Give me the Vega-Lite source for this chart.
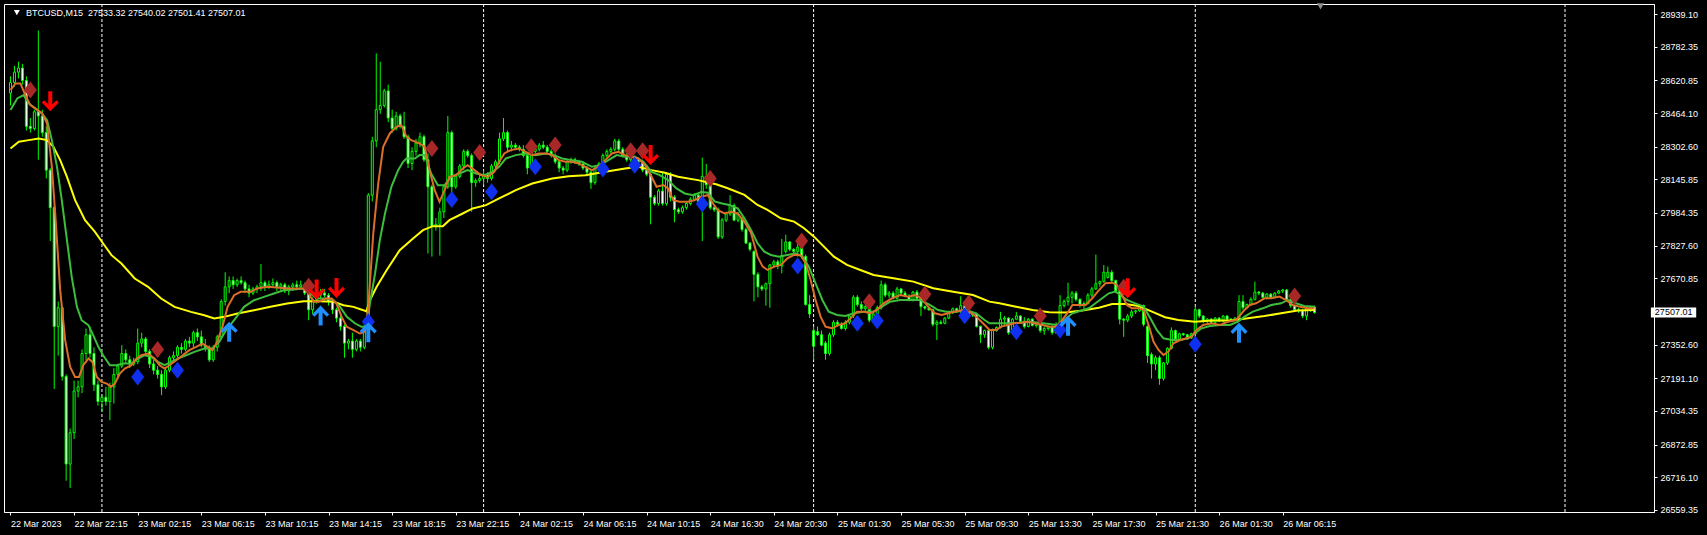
{
"$schema": "https://vega.github.io/schema/vega-lite/v6.json",
"width": 1650, "height": 508,
"autosize": {"type": "none"},
"padding": {"left": 4, "top": 4, "right": 53, "bottom": 23},
"background": "#000000",
"config": {"view": {"stroke": "#ffffff", "strokeWidth": 1, "fill": "#000000"}, "font": "Liberation Sans",
"axis": {"labelOverlap": false, "labelFlush": false, "grid": false},
"axisY": {"labelOverlap": false, "tickCount": 30}},
"datasets": {
"candles": [
{"i":0,"o":28560,"h":28640,"l":28500,"c":28610},{"i":1,"o":28610,"h":28690,"l":28590,"c":28660},{"i":2,"o":28660,"h":28710,"l":28630,"c":28680},{"i":3,"o":28680,"h":28700,"l":28600,"c":28620},{"i":4,"o":28620,"h":28640,"l":28380,"c":28400},{"i":5,"o":28400,"h":28440,"l":28370,"c":28390},{"i":6,"o":28390,"h":28480,"l":28380,"c":28470},{"i":7,"o":28470,"h":28860,"l":28240,"c":28450},{"i":8,"o":28450,"h":28480,"l":28350,"c":28370},{"i":9,"o":28370,"h":28400,"l":28150,"c":28190},
{"i":10,"o":28190,"h":28200,"l":27850,"c":28010},{"i":11,"o":28010,"h":28020,"l":27140,"c":27440},{"i":12,"o":27440,"h":27560,"l":27300,"c":27530},{"i":13,"o":27530,"h":27540,"l":27180,"c":27200},{"i":14,"o":27200,"h":27210,"l":26700,"c":26780},{"i":15,"o":26780,"h":26950,"l":26665,"c":26930},{"i":16,"o":26930,"h":27180,"l":26900,"c":27130},{"i":17,"o":27130,"h":27180,"l":27100,"c":27150},{"i":18,"o":27150,"h":27330,"l":27120,"c":27310},{"i":19,"o":27310,"h":27430,"l":27280,"c":27400},
{"i":20,"o":27400,"h":27440,"l":27290,"c":27310},{"i":21,"o":27310,"h":27340,"l":27130,"c":27160},{"i":22,"o":27160,"h":27180,"l":27060,"c":27080},{"i":23,"o":27080,"h":27110,"l":27030,"c":27100},{"i":24,"o":27100,"h":27150,"l":27060,"c":27080},{"i":25,"o":27080,"h":27170,"l":26990,"c":27150},{"i":26,"o":27150,"h":27240,"l":27070,"c":27210},{"i":27,"o":27210,"h":27260,"l":27190,"c":27250},{"i":28,"o":27250,"h":27350,"l":27240,"c":27310},{"i":29,"o":27310,"h":27330,"l":27260,"c":27280},
{"i":30,"o":27280,"h":27300,"l":27240,"c":27260},{"i":31,"o":27260,"h":27290,"l":27250,"c":27270},{"i":32,"o":27270,"h":27430,"l":27260,"c":27360},{"i":33,"o":27360,"h":27410,"l":27340,"c":27380},{"i":34,"o":27380,"h":27390,"l":27300,"c":27320},{"i":35,"o":27320,"h":27330,"l":27240,"c":27260},{"i":36,"o":27260,"h":27280,"l":27210,"c":27230},{"i":37,"o":27230,"h":27250,"l":27190,"c":27210},{"i":38,"o":27210,"h":27230,"l":27110,"c":27150},{"i":39,"o":27150,"h":27240,"l":27140,"c":27230},
{"i":40,"o":27230,"h":27300,"l":27220,"c":27290},{"i":41,"o":27290,"h":27320,"l":27270,"c":27300},{"i":42,"o":27300,"h":27350,"l":27290,"c":27340},{"i":43,"o":27340,"h":27360,"l":27310,"c":27330},{"i":44,"o":27330,"h":27380,"l":27320,"c":27370},{"i":45,"o":27370,"h":27390,"l":27340,"c":27360},{"i":46,"o":27360,"h":27420,"l":27340,"c":27410},{"i":47,"o":27410,"h":27430,"l":27370,"c":27390},{"i":48,"o":27390,"h":27420,"l":27340,"c":27350},{"i":49,"o":27350,"h":27380,"l":27320,"c":27340},
{"i":50,"o":27340,"h":27350,"l":27270,"c":27280},{"i":51,"o":27280,"h":27350,"l":27270,"c":27340},{"i":52,"o":27340,"h":27400,"l":27320,"c":27390},{"i":53,"o":27390,"h":27570,"l":27380,"c":27560},{"i":54,"o":27560,"h":27700,"l":27540,"c":27630},{"i":55,"o":27630,"h":27680,"l":27600,"c":27660},{"i":56,"o":27660,"h":27680,"l":27620,"c":27640},{"i":57,"o":27640,"h":27670,"l":27630,"c":27660},{"i":58,"o":27660,"h":27680,"l":27640,"c":27650},{"i":59,"o":27650,"h":27660,"l":27600,"c":27620},
{"i":60,"o":27620,"h":27640,"l":27580,"c":27600},{"i":61,"o":27600,"h":27630,"l":27590,"c":27620},{"i":62,"o":27620,"h":27640,"l":27600,"c":27630},{"i":63,"o":27630,"h":27740,"l":27610,"c":27650},{"i":64,"o":27650,"h":27660,"l":27610,"c":27630},{"i":65,"o":27630,"h":27660,"l":27620,"c":27640},{"i":66,"o":27640,"h":27670,"l":27630,"c":27650},{"i":67,"o":27650,"h":27660,"l":27610,"c":27630},{"i":68,"o":27630,"h":27650,"l":27610,"c":27640},{"i":69,"o":27640,"h":27650,"l":27600,"c":27610},
{"i":70,"o":27610,"h":27640,"l":27590,"c":27630},{"i":71,"o":27630,"h":27650,"l":27610,"c":27640},{"i":72,"o":27640,"h":27660,"l":27620,"c":27630},{"i":73,"o":27630,"h":27660,"l":27620,"c":27640},{"i":74,"o":27640,"h":27650,"l":27590,"c":27600},{"i":75,"o":27600,"h":27610,"l":27470,"c":27520},{"i":76,"o":27520,"h":27580,"l":27500,"c":27570},{"i":77,"o":27570,"h":27600,"l":27550,"c":27590},{"i":78,"o":27590,"h":27620,"l":27570,"c":27600},{"i":79,"o":27600,"h":27620,"l":27580,"c":27590},
{"i":80,"o":27590,"h":27600,"l":27540,"c":27560},{"i":81,"o":27560,"h":27570,"l":27500,"c":27520},{"i":82,"o":27520,"h":27530,"l":27460,"c":27480},{"i":83,"o":27480,"h":27490,"l":27420,"c":27440},{"i":84,"o":27440,"h":27450,"l":27290,"c":27360},{"i":85,"o":27360,"h":27380,"l":27330,"c":27370},{"i":86,"o":27370,"h":27410,"l":27290,"c":27330},{"i":87,"o":27330,"h":27380,"l":27320,"c":27370},{"i":88,"o":27370,"h":27380,"l":27320,"c":27340},{"i":89,"o":27340,"h":27450,"l":27330,"c":27420},
{"i":90,"o":27420,"h":28080,"l":27410,"c":28070},{"i":91,"o":28070,"h":28350,"l":28040,"c":28330},{"i":92,"o":28330,"h":28750,"l":28300,"c":28480},{"i":93,"o":28480,"h":28710,"l":28460,"c":28500},{"i":94,"o":28500,"h":28580,"l":28490,"c":28570},{"i":95,"o":28570,"h":28600,"l":28420,"c":28440},{"i":96,"o":28440,"h":28480,"l":28370,"c":28390},{"i":97,"o":28390,"h":28470,"l":28380,"c":28450},{"i":98,"o":28450,"h":28460,"l":28390,"c":28400},{"i":99,"o":28400,"h":28470,"l":28340,"c":28350},
{"i":100,"o":28350,"h":28360,"l":28200,"c":28222},{"i":101,"o":28222,"h":28300,"l":28190,"c":28280},{"i":102,"o":28280,"h":28340,"l":28260,"c":28320},{"i":103,"o":28320,"h":28370,"l":28300,"c":28350},{"i":104,"o":28350,"h":28360,"l":28230,"c":28240},{"i":105,"o":28240,"h":28270,"l":27790,"c":28110},{"i":106,"o":28110,"h":28120,"l":27775,"c":27920},{"i":107,"o":27920,"h":27960,"l":27900,"c":27930},{"i":108,"o":27930,"h":28010,"l":27780,"c":27990},{"i":109,"o":27990,"h":28120,"l":27960,"c":28110},
{"i":110,"o":28110,"h":28450,"l":28100,"c":28370},{"i":111,"o":28370,"h":28380,"l":28080,"c":28110},{"i":112,"o":28110,"h":28170,"l":28100,"c":28160},{"i":113,"o":28160,"h":28220,"l":28150,"c":28210},{"i":114,"o":28210,"h":28290,"l":28190,"c":28280},{"i":115,"o":28280,"h":28290,"l":28250,"c":28260},{"i":116,"o":28260,"h":28270,"l":27990,"c":28130},{"i":117,"o":28130,"h":28150,"l":28110,"c":28140},{"i":118,"o":28140,"h":28170,"l":28130,"c":28150},{"i":119,"o":28150,"h":28190,"l":28120,"c":28170},
{"i":120,"o":28170,"h":28180,"l":28130,"c":28150},{"i":121,"o":28150,"h":28220,"l":28140,"c":28210},{"i":122,"o":28210,"h":28240,"l":28190,"c":28230},{"i":123,"o":28230,"h":28370,"l":28220,"c":28340},{"i":124,"o":28340,"h":28440,"l":28330,"c":28370},{"i":125,"o":28370,"h":28380,"l":28280,"c":28300},{"i":126,"o":28300,"h":28330,"l":28280,"c":28310},{"i":127,"o":28310,"h":28320,"l":28290,"c":28300},{"i":128,"o":28300,"h":28310,"l":28280,"c":28290},{"i":129,"o":28290,"h":28310,"l":28250,"c":28260},
{"i":130,"o":28260,"h":28270,"l":28170,"c":28200},{"i":131,"o":28200,"h":28290,"l":28190,"c":28280},{"i":132,"o":28280,"h":28300,"l":28270,"c":28290},{"i":133,"o":28290,"h":28320,"l":28280,"c":28310},{"i":134,"o":28310,"h":28330,"l":28290,"c":28300},{"i":135,"o":28300,"h":28310,"l":28270,"c":28280},{"i":136,"o":28280,"h":28290,"l":28250,"c":28260},{"i":137,"o":28260,"h":28270,"l":28220,"c":28230},{"i":138,"o":28230,"h":28240,"l":28180,"c":28200},{"i":139,"o":28200,"h":28210,"l":28170,"c":28190},
{"i":140,"o":28190,"h":28240,"l":28180,"c":28230},{"i":141,"o":28230,"h":28250,"l":28220,"c":28240},{"i":142,"o":28240,"h":28250,"l":28220,"c":28230},{"i":143,"o":28230,"h":28240,"l":28210,"c":28220},{"i":144,"o":28220,"h":28230,"l":28190,"c":28200},{"i":145,"o":28200,"h":28210,"l":28160,"c":28180},{"i":146,"o":28180,"h":28190,"l":28100,"c":28130},{"i":147,"o":28130,"h":28210,"l":28120,"c":28200},{"i":148,"o":28200,"h":28230,"l":28190,"c":28220},{"i":149,"o":28220,"h":28270,"l":28210,"c":28260},
{"i":150,"o":28260,"h":28290,"l":28250,"c":28280},{"i":151,"o":28280,"h":28300,"l":28270,"c":28290},{"i":152,"o":28290,"h":28340,"l":28280,"c":28330},{"i":153,"o":28330,"h":28340,"l":28280,"c":28290},{"i":154,"o":28290,"h":28300,"l":28250,"c":28260},{"i":155,"o":28260,"h":28280,"l":28230,"c":28240},{"i":156,"o":28240,"h":28260,"l":28230,"c":28250},{"i":157,"o":28250,"h":28260,"l":28230,"c":28240},{"i":158,"o":28240,"h":28250,"l":28220,"c":28230},{"i":159,"o":28230,"h":28240,"l":28180,"c":28190},
{"i":160,"o":28190,"h":28200,"l":28160,"c":28170},{"i":161,"o":28170,"h":28180,"l":27930,"c":28060},{"i":162,"o":28060,"h":28070,"l":28020,"c":28030},{"i":163,"o":28030,"h":28100,"l":28020,"c":28090},{"i":164,"o":28090,"h":28180,"l":28020,"c":28030},{"i":165,"o":28030,"h":28180,"l":28020,"c":28170},{"i":166,"o":28170,"h":28180,"l":28040,"c":28060},{"i":167,"o":28060,"h":28070,"l":27940,"c":28000},{"i":168,"o":28000,"h":28010,"l":27980,"c":27990},{"i":169,"o":27990,"h":28020,"l":27980,"c":28010},
{"i":170,"o":28010,"h":28040,"l":28000,"c":28030},{"i":171,"o":28030,"h":28060,"l":28020,"c":28050},{"i":172,"o":28050,"h":28080,"l":28040,"c":28070},{"i":173,"o":28070,"h":28080,"l":28030,"c":28040},{"i":174,"o":28040,"h":28250,"l":27850,"c":28160},{"i":175,"o":28160,"h":28220,"l":28100,"c":28120},{"i":176,"o":28120,"h":28130,"l":28000,"c":28010},{"i":177,"o":28010,"h":28020,"l":27990,"c":28000},{"i":178,"o":28000,"h":28010,"l":27860,"c":27870},{"i":179,"o":27870,"h":27960,"l":27860,"c":27950},
{"i":180,"o":27950,"h":27990,"l":27940,"c":27980},{"i":181,"o":27980,"h":28070,"l":27970,"c":28020},{"i":182,"o":28020,"h":28030,"l":27945,"c":27950},{"i":183,"o":27950,"h":27990,"l":27940,"c":27980},{"i":184,"o":27960,"h":27965,"l":27895,"c":27905},{"i":185,"o":27905,"h":27915,"l":27835,"c":27840},{"i":186,"o":27840,"h":27845,"l":27800,"c":27810},{"i":187,"o":27800,"h":27805,"l":27560,"c":27690},{"i":188,"o":27690,"h":27700,"l":27580,"c":27630},{"i":189,"o":27630,"h":27640,"l":27610,"c":27620},
{"i":190,"o":27620,"h":27650,"l":27540,"c":27645},{"i":191,"o":27645,"h":27740,"l":27530,"c":27735},{"i":192,"o":27735,"h":27760,"l":27725,"c":27750},{"i":193,"o":27750,"h":27760,"l":27715,"c":27730},{"i":194,"o":27730,"h":27860,"l":27695,"c":27780},{"i":195,"o":27800,"h":27880,"l":27790,"c":27845},{"i":196,"o":27845,"h":27850,"l":27800,"c":27810},{"i":197,"o":27810,"h":27815,"l":27790,"c":27800},{"i":198,"o":27800,"h":27860,"l":27775,"c":27820},{"i":199,"o":27820,"h":27825,"l":27765,"c":27775},
{"i":200,"o":27775,"h":27785,"l":27540,"c":27545},{"i":201,"o":27545,"h":27590,"l":27480,"c":27500},{"i":202,"o":27420,"h":27440,"l":27280,"c":27345},{"i":203,"o":27415,"h":27440,"l":27395,"c":27400},{"i":204,"o":27400,"h":27420,"l":27345,"c":27350},{"i":205,"o":27360,"h":27370,"l":27280,"c":27310},{"i":206,"o":27310,"h":27410,"l":27300,"c":27400},{"i":207,"o":27400,"h":27470,"l":27390,"c":27460},{"i":208,"o":27460,"h":27470,"l":27440,"c":27450},{"i":209,"o":27450,"h":27460,"l":27425,"c":27430},
{"i":210,"o":27430,"h":27470,"l":27420,"c":27460},{"i":211,"o":27460,"h":27500,"l":27450,"c":27490},{"i":212,"o":27490,"h":27590,"l":27480,"c":27580},{"i":213,"o":27580,"h":27590,"l":27535,"c":27545},{"i":214,"o":27545,"h":27560,"l":27515,"c":27525},{"i":215,"o":27525,"h":27545,"l":27515,"c":27535},{"i":216,"o":27535,"h":27540,"l":27460,"c":27470},{"i":217,"o":27470,"h":27510,"l":27460,"c":27500},{"i":218,"o":27500,"h":27540,"l":27495,"c":27530},{"i":219,"o":27530,"h":27660,"l":27520,"c":27640},
{"i":220,"o":27640,"h":27650,"l":27580,"c":27590},{"i":221,"o":27590,"h":27610,"l":27575,"c":27600},{"i":222,"o":27600,"h":27610,"l":27570,"c":27575},{"i":223,"o":27575,"h":27630,"l":27570,"c":27620},{"i":224,"o":27620,"h":27625,"l":27590,"c":27600},{"i":225,"o":27600,"h":27610,"l":27580,"c":27585},{"i":226,"o":27585,"h":27595,"l":27560,"c":27565},{"i":227,"o":27565,"h":27610,"l":27560,"c":27605},{"i":228,"o":27605,"h":27615,"l":27570,"c":27575},{"i":229,"o":27575,"h":27580,"l":27490,"c":27535},
{"i":230,"o":27535,"h":27540,"l":27520,"c":27528},{"i":231,"o":27528,"h":27535,"l":27515,"c":27520},{"i":232,"o":27520,"h":27525,"l":27440,"c":27450},{"i":233,"o":27450,"h":27470,"l":27375,"c":27460},{"i":234,"o":27460,"h":27470,"l":27450,"c":27455},{"i":235,"o":27455,"h":27485,"l":27450,"c":27480},{"i":236,"o":27480,"h":27510,"l":27475,"c":27505},{"i":237,"o":27505,"h":27530,"l":27500,"c":27525},{"i":238,"o":27525,"h":27530,"l":27505,"c":27510},{"i":239,"o":27510,"h":27585,"l":27505,"c":27540},
{"i":240,"o":27540,"h":27545,"l":27505,"c":27515},{"i":241,"o":27515,"h":27520,"l":27490,"c":27495},{"i":242,"o":27495,"h":27505,"l":27485,"c":27500},{"i":243,"o":27500,"h":27505,"l":27435,"c":27440},{"i":244,"o":27440,"h":27445,"l":27360,"c":27400},{"i":245,"o":27400,"h":27425,"l":27385,"c":27420},{"i":246,"o":27420,"h":27425,"l":27330,"c":27340},{"i":247,"o":27340,"h":27430,"l":27330,"c":27420},{"i":248,"o":27420,"h":27440,"l":27415,"c":27435},{"i":249,"o":27435,"h":27510,"l":27430,"c":27475},
{"i":250,"o":27475,"h":27490,"l":27445,"c":27480},{"i":251,"o":27480,"h":27485,"l":27400,"c":27410},{"i":252,"o":27410,"h":27480,"l":27405,"c":27475},{"i":253,"o":27475,"h":27510,"l":27470,"c":27490},{"i":254,"o":27490,"h":27495,"l":27455,"c":27465},{"i":255,"o":27465,"h":27485,"l":27430,"c":27440},{"i":256,"o":27440,"h":27480,"l":27435,"c":27475},{"i":257,"o":27475,"h":27480,"l":27440,"c":27445},{"i":258,"o":27445,"h":27460,"l":27435,"c":27455},{"i":259,"o":27455,"h":27460,"l":27410,"c":27420},
{"i":260,"o":27420,"h":27440,"l":27400,"c":27430},{"i":261,"o":27430,"h":27445,"l":27420,"c":27440},{"i":262,"o":27440,"h":27445,"l":27400,"c":27410},{"i":263,"o":27410,"h":27460,"l":27405,"c":27450},{"i":264,"o":27450,"h":27590,"l":27440,"c":27540},{"i":265,"o":27540,"h":27570,"l":27530,"c":27560},{"i":266,"o":27560,"h":27650,"l":27540,"c":27580},{"i":267,"o":27580,"h":27610,"l":27550,"c":27600},{"i":268,"o":27600,"h":27610,"l":27560,"c":27570},{"i":269,"o":27570,"h":27575,"l":27530,"c":27540},
{"i":270,"o":27540,"h":27560,"l":27515,"c":27550},{"i":271,"o":27550,"h":27600,"l":27545,"c":27590},{"i":272,"o":27590,"h":27630,"l":27580,"c":27620},{"i":273,"o":27620,"h":27785,"l":27615,"c":27645},{"i":274,"o":27645,"h":27660,"l":27630,"c":27655},{"i":275,"o":27655,"h":27735,"l":27650,"c":27700},{"i":276,"o":27675,"h":27727,"l":27670,"c":27700},{"i":277,"o":27700,"h":27710,"l":27650,"c":27660},{"i":278,"o":27660,"h":27665,"l":27600,"c":27610},{"i":279,"o":27610,"h":27620,"l":27450,"c":27475},
{"i":280,"o":27475,"h":27480,"l":27390,"c":27470},{"i":281,"o":27470,"h":27500,"l":27460,"c":27490},{"i":282,"o":27490,"h":27520,"l":27480,"c":27510},{"i":283,"o":27510,"h":27520,"l":27500,"c":27515},{"i":284,"o":27515,"h":27545,"l":27510,"c":27540},{"i":285,"o":27540,"h":27545,"l":27440,"c":27450},{"i":286,"o":27440,"h":27445,"l":27265,"c":27300},{"i":287,"o":27305,"h":27315,"l":27190,"c":27260},{"i":288,"o":27260,"h":27300,"l":27230,"c":27290},{"i":289,"o":27290,"h":27300,"l":27160,"c":27190},
{"i":290,"o":27190,"h":27270,"l":27180,"c":27265},{"i":291,"o":27265,"h":27340,"l":27255,"c":27335},{"i":292,"o":27335,"h":27435,"l":27330,"c":27420},{"i":293,"o":27420,"h":27425,"l":27370,"c":27380},{"i":294,"o":27380,"h":27410,"l":27370,"c":27405},{"i":295,"o":27405,"h":27410,"l":27395,"c":27400},{"i":296,"o":27400,"h":27405,"l":27375,"c":27385},{"i":297,"o":27385,"h":27410,"l":27380,"c":27405},{"i":298,"o":27405,"h":27535,"l":27400,"c":27520},{"i":299,"o":27520,"h":27525,"l":27480,"c":27490},
{"i":300,"o":27490,"h":27495,"l":27455,"c":27465},{"i":301,"o":27465,"h":27480,"l":27455,"c":27475},{"i":302,"o":27475,"h":27480,"l":27450,"c":27460},{"i":303,"o":27460,"h":27485,"l":27455,"c":27480},{"i":304,"o":27480,"h":27485,"l":27460,"c":27465},{"i":305,"o":27465,"h":27495,"l":27460,"c":27490},{"i":306,"o":27490,"h":27495,"l":27470,"c":27475},{"i":307,"o":27475,"h":27480,"l":27465,"c":27470},{"i":308,"o":27470,"h":27485,"l":27465,"c":27480},{"i":309,"o":27480,"h":27590,"l":27470,"c":27560},
{"i":310,"o":27560,"h":27590,"l":27520,"c":27530},{"i":311,"o":27530,"h":27550,"l":27525,"c":27545},{"i":312,"o":27545,"h":27580,"l":27540,"c":27570},{"i":313,"o":27570,"h":27655,"l":27565,"c":27605},{"i":314,"o":27605,"h":27610,"l":27590,"c":27600},{"i":315,"o":27600,"h":27605,"l":27575,"c":27580},{"i":316,"o":27580,"h":27600,"l":27570,"c":27595},{"i":317,"o":27595,"h":27600,"l":27575,"c":27580},{"i":318,"o":27580,"h":27605,"l":27575,"c":27600},{"i":319,"o":27600,"h":27615,"l":27595,"c":27610},
{"i":320,"o":27610,"h":27620,"l":27600,"c":27615},{"i":321,"o":27615,"h":27620,"l":27560,"c":27570},{"i":322,"o":27570,"h":27575,"l":27530,"c":27540},{"i":323,"o":27540,"h":27545,"l":27510,"c":27520},{"i":324,"o":27520,"h":27530,"l":27505,"c":27515},{"i":325,"o":27515,"h":27525,"l":27480,"c":27490},{"i":326,"o":27490,"h":27530,"l":27470,"c":27525},{"i":327,"o":27525,"h":27540,"l":27510,"c":27533},{"i":328,"o":27533.32,"h":27540.02,"l":27501.41,"c":27507.01}
],
"fast": [
{"i":0,"p":28574},{"i":1.25,"p":28606},{"i":2.5,"p":28606},{"i":3.75,"p":28550},{"i":5,"p":28502},{"i":6.25,"p":28486},{"i":8,"p":28462},{"i":9.2,"p":28414},{"i":10.4,"p":28206},{"i":11.25,"p":27982},{"i":12.5,"p":27614},{"i":13.75,"p":27374},{"i":15,"p":27246},{"i":16.25,"p":27198},{"i":17.25,"p":27198},{"i":18.3,"p":27254},{"i":19.6,"p":27286},{"i":20.6,"p":27270},{"i":21.7,"p":27198},{"i":22.9,"p":27174},{"i":24.2,"p":27166},{"i":25.25,"p":27150},{"i":26.25,"p":27166},{"i":27.5,"p":27214},{"i":28.75,"p":27238},{"i":30.4,"p":27254},{"i":31.7,"p":27286},{"i":32.9,"p":27302},{"i":34.6,"p":27310},{"i":36.25,"p":27286},{"i":37.5,"p":27254},{"i":38.75,"p":27238},{"i":40,"p":27254},{"i":41.7,"p":27278},{"i":43.3,"p":27302},{"i":45,"p":27326},{"i":46.7,"p":27342},{"i":48.3,"p":27358},{"i":49.6,"p":27342},{"i":50.8,"p":27326},{"i":52,"p":27366},{"i":53.3,"p":27438},{"i":54.6,"p":27534},{"i":56.25,"p":27590},{"i":57.9,"p":27606},{"i":60.4,"p":27606},{"i":62,"p":27622},{"i":64.6,"p":27630},{"i":67,"p":27627},{"i":69.6,"p":27622},{"i":72,"p":27622},{"i":73.75,"p":27622},{"i":75,"p":27598},{"i":76.25,"p":27558},{"i":77.5,"p":27558},{"i":79.2,"p":27574},{"i":80.8,"p":27574},{"i":82,"p":27550},{"i":83.3,"p":27486},{"i":84.6,"p":27438},{"i":86.25,"p":27422},{"i":87.9,"p":27406},{"i":89.2,"p":27414},{"i":90,"p":27534},{"i":91.25,"p":27886},{"i":92.5,"p":28126},{"i":93.75,"p":28302},{"i":95.4,"p":28366},{"i":97.1,"p":28398},{"i":98.3,"p":28406},{"i":99.6,"p":28350},{"i":100.8,"p":28334},{"i":102.9,"p":28318},{"i":104.2,"p":28302},{"i":105.4,"p":28190},{"i":106.7,"p":28094},{"i":107.9,"p":28038},{"i":109.2,"p":28094},{"i":110.4,"p":28158},{"i":112.1,"p":28166},{"i":113.75,"p":28198},{"i":115,"p":28214},{"i":116.7,"p":28190},{"i":118.3,"p":28166},{"i":120,"p":28158},{"i":121.7,"p":28182},{"i":122.9,"p":28230},{"i":124.2,"p":28270},{"i":125.8,"p":28286},{"i":127.9,"p":28294},{"i":129.6,"p":28278},{"i":131.25,"p":28262},{"i":132.9,"p":28270},{"i":135,"p":28270},{"i":136.25,"p":28262},{"i":137.9,"p":28238},{"i":139.6,"p":28230},{"i":141.25,"p":28230},{"i":142.9,"p":28222},{"i":144.6,"p":28206},{"i":146.25,"p":28190},{"i":147.9,"p":28206},{"i":149.6,"p":28238},{"i":151.25,"p":28270},{"i":152.9,"p":28278},{"i":154.6,"p":28262},{"i":156.25,"p":28254},{"i":157.9,"p":28246},{"i":159.6,"p":28214},{"i":161.25,"p":28158},{"i":162.5,"p":28110},{"i":164.2,"p":28118},{"i":165.4,"p":28102},{"i":166.7,"p":28046},{"i":168.3,"p":28038},{"i":170.4,"p":28038},{"i":172.1,"p":28046},{"i":173.75,"p":28062},{"i":175.4,"p":28070},{"i":176.7,"p":28030},{"i":177.9,"p":27998},{"i":179.6,"p":27982},{"i":181.25,"p":27990},{"i":182.9,"p":27982},{"i":184.6,"p":27942},{"i":186.25,"p":27890},{"i":187.9,"p":27775},{"i":189.2,"p":27727},{"i":190.4,"p":27711},{"i":192.1,"p":27727},{"i":193.75,"p":27735},{"i":195.4,"p":27767},{"i":197.1,"p":27783},{"i":198.75,"p":27783},{"i":200,"p":27743},{"i":201.25,"p":27663},{"i":202.5,"p":27567},{"i":203.75,"p":27487},{"i":205,"p":27439},{"i":206.7,"p":27431},{"i":208.3,"p":27447},{"i":210,"p":27455},{"i":211.7,"p":27487},{"i":212.9,"p":27511},{"i":214.6,"p":27511},{"i":216.25,"p":27503},{"i":217.9,"p":27519},{"i":219.6,"p":27551},{"i":221.7,"p":27575},{"i":223.75,"p":27591},{"i":225.8,"p":27583},{"i":227.5,"p":27591},{"i":229.2,"p":27575},{"i":230.8,"p":27535},{"i":232.5,"p":27503},{"i":234.2,"p":27495},{"i":235.8,"p":27503},{"i":237.5,"p":27511},{"i":239.6,"p":27519},{"i":241.25,"p":27511},{"i":242.9,"p":27487},{"i":244.6,"p":27455},{"i":246.25,"p":27423},{"i":247.9,"p":27423},{"i":249.2,"p":27439},{"i":250.8,"p":27447},{"i":252.5,"p":27455},{"i":254.2,"p":27458},{"i":255.8,"p":27463},{"i":257.5,"p":27455},{"i":259.6,"p":27447},{"i":261.25,"p":27439},{"i":262.9,"p":27439},{"i":264.2,"p":27463},{"i":265.8,"p":27503},{"i":267.1,"p":27543},{"i":268.75,"p":27543},{"i":270.4,"p":27543},{"i":272.1,"p":27575},{"i":273.3,"p":27603},{"i":274.2,"p":27623},{"i":275.4,"p":27647},{"i":277.1,"p":27650},{"i":278.3,"p":27639},{"i":279.6,"p":27591},{"i":280.8,"p":27543},{"i":282.1,"p":27527},{"i":283.75,"p":27527},{"i":285,"p":27519},{"i":286.25,"p":27447},{"i":287.5,"p":27367},{"i":288.75,"p":27327},{"i":290,"p":27303},{"i":291.25,"p":27319},{"i":292.5,"p":27359},{"i":294.2,"p":27375},{"i":295.8,"p":27383},{"i":297.1,"p":27391},{"i":298.3,"p":27423},{"i":300,"p":27447},{"i":302.1,"p":27455},{"i":304.2,"p":27447},{"i":306.25,"p":27463},{"i":308.3,"p":27471},{"i":310,"p":27511},{"i":311.7,"p":27543},{"i":313.3,"p":27551},{"i":315.4,"p":27575},{"i":317.1,"p":27575},{"i":319.2,"p":27583},{"i":320.8,"p":27567},{"i":322.5,"p":27543},{"i":324.2,"p":27535},{"i":326.25,"p":27527},{"i":328,"p":27527}
],
"mid": [
{"i":0,"p":28478},{"i":1.7,"p":28534},{"i":3.3,"p":28550},{"i":4.6,"p":28510},{"i":6.25,"p":28486},{"i":7.9,"p":28462},{"i":9.2,"p":28430},{"i":10.4,"p":28334},{"i":11.7,"p":28206},{"i":12.9,"p":28046},{"i":14.2,"p":27854},{"i":15.4,"p":27678},{"i":16.7,"p":27534},{"i":17.9,"p":27470},{"i":19.6,"p":27446},{"i":20.8,"p":27398},{"i":22.1,"p":27342},{"i":23.3,"p":27302},{"i":25,"p":27254},{"i":26.7,"p":27254},{"i":28.3,"p":27262},{"i":30.4,"p":27262},{"i":32.1,"p":27286},{"i":33.75,"p":27302},{"i":35.4,"p":27294},{"i":37.1,"p":27270},{"i":38.75,"p":27254},{"i":40.4,"p":27270},{"i":42.1,"p":27286},{"i":44.2,"p":27302},{"i":46.25,"p":27318},{"i":48.75,"p":27334},{"i":50.8,"p":27334},{"i":52.5,"p":27366},{"i":54.2,"p":27422},{"i":56.25,"p":27470},{"i":58.75,"p":27534},{"i":61.25,"p":27566},{"i":63.75,"p":27582},{"i":66.25,"p":27598},{"i":68.75,"p":27614},{"i":71.25,"p":27617},{"i":73.75,"p":27622},{"i":75.4,"p":27598},{"i":77.1,"p":27574},{"i":79.2,"p":27574},{"i":81.25,"p":27566},{"i":82.9,"p":27534},{"i":84.6,"p":27486},{"i":86.7,"p":27454},{"i":88.3,"p":27438},{"i":89.6,"p":27438},{"i":90.4,"p":27550},{"i":91.7,"p":27694},{"i":92.9,"p":27854},{"i":94.2,"p":27982},{"i":95.8,"p":28110},{"i":97.5,"p":28190},{"i":98.75,"p":28230},{"i":99.6,"p":28246},{"i":101.7,"p":28246},{"i":102.9,"p":28262},{"i":104.2,"p":28262},{"i":105.8,"p":28174},{"i":107.5,"p":28118},{"i":109.2,"p":28118},{"i":110.8,"p":28158},{"i":112.9,"p":28174},{"i":115,"p":28190},{"i":117.1,"p":28174},{"i":119.2,"p":28166},{"i":121.25,"p":28182},{"i":122.9,"p":28206},{"i":124.6,"p":28246},{"i":127.1,"p":28262},{"i":129.6,"p":28270},{"i":132.1,"p":28262},{"i":134.6,"p":28270},{"i":136.7,"p":28262},{"i":138.75,"p":28246},{"i":141.25,"p":28238},{"i":143.75,"p":28230},{"i":146.25,"p":28206},{"i":148.3,"p":28214},{"i":150.4,"p":28238},{"i":152.5,"p":28262},{"i":154.6,"p":28254},{"i":157.1,"p":28254},{"i":159.2,"p":28230},{"i":161.25,"p":28182},{"i":163.3,"p":28166},{"i":165.4,"p":28142},{"i":167.5,"p":28102},{"i":169.6,"p":28078},{"i":171.7,"p":28070},{"i":173.75,"p":28085},{"i":175.4,"p":28082},{"i":177.1,"p":28040},{"i":178.75,"p":28031},{"i":180.8,"p":28023},{"i":182.9,"p":28007},{"i":184.6,"p":27959},{"i":186.25,"p":27903},{"i":187.9,"p":27839},{"i":189.6,"p":27799},{"i":191.25,"p":27783},{"i":193.3,"p":27775},{"i":195.4,"p":27783},{"i":197.5,"p":27791},{"i":199.2,"p":27775},{"i":200.8,"p":27727},{"i":202.5,"p":27647},{"i":204.2,"p":27567},{"i":205.8,"p":27511},{"i":207.9,"p":27495},{"i":210,"p":27490},{"i":212.1,"p":27503},{"i":214.6,"p":27511},{"i":217.1,"p":27511},{"i":219.2,"p":27535},{"i":221.25,"p":27559},{"i":223.75,"p":27567},{"i":226.25,"p":27567},{"i":228.75,"p":27567},{"i":231.25,"p":27543},{"i":233.3,"p":27519},{"i":235.4,"p":27511},{"i":237.9,"p":27511},{"i":240.4,"p":27519},{"i":242.9,"p":27503},{"i":245,"p":27471},{"i":246.25,"p":27455},{"i":248.75,"p":27455},{"i":251.25,"p":27455},{"i":253.75,"p":27458},{"i":256.25,"p":27463},{"i":258.75,"p":27458},{"i":261.25,"p":27452},{"i":263.3,"p":27447},{"i":265,"p":27471},{"i":267.1,"p":27503},{"i":269.2,"p":27515},{"i":271.25,"p":27527},{"i":272.9,"p":27551},{"i":274.6,"p":27575},{"i":276.25,"p":27599},{"i":277.9,"p":27607},{"i":279.2,"p":27591},{"i":280.8,"p":27567},{"i":282.9,"p":27551},{"i":285,"p":27535},{"i":286.7,"p":27479},{"i":288.3,"p":27423},{"i":290,"p":27383},{"i":292.1,"p":27375},{"i":294.2,"p":27375},{"i":296.25,"p":27383},{"i":297.9,"p":27407},{"i":299.6,"p":27431},{"i":301.7,"p":27442},{"i":304.2,"p":27447},{"i":306.7,"p":27447},{"i":308.75,"p":27463},{"i":310.4,"p":27487},{"i":312.5,"p":27511},{"i":315,"p":27527},{"i":317.1,"p":27543},{"i":319.6,"p":27551},{"i":321.25,"p":27567},{"i":323.3,"p":27551},{"i":325.4,"p":27538},{"i":328,"p":27535}
],
"slow": [
{"i":0,"p":28294},{"i":2.1,"p":28326},{"i":4.6,"p":28334},{"i":7.1,"p":28342},{"i":9.2,"p":28334},{"i":10.8,"p":28302},{"i":12.5,"p":28238},{"i":14.2,"p":28158},{"i":16.25,"p":28046},{"i":18.75,"p":27950},{"i":21.25,"p":27894},{"i":23.3,"p":27838},{"i":25.4,"p":27782},{"i":27.9,"p":27742},{"i":31.25,"p":27670},{"i":34.6,"p":27630},{"i":37.9,"p":27574},{"i":41.25,"p":27534},{"i":45.4,"p":27510},{"i":48.75,"p":27494},{"i":51.25,"p":27478},{"i":53.75,"p":27486},{"i":57.1,"p":27502},{"i":61.25,"p":27518},{"i":65.4,"p":27534},{"i":69.6,"p":27550},{"i":73.75,"p":27561},{"i":77.9,"p":27561},{"i":81.25,"p":27558},{"i":83.75,"p":27542},{"i":86.25,"p":27534},{"i":88.75,"p":27518},{"i":89.5,"p":27512},{"i":90.4,"p":27566},{"i":92.1,"p":27630},{"i":94.6,"p":27710},{"i":97.9,"p":27806},{"i":101.25,"p":27862},{"i":103.75,"p":27902},{"i":106.25,"p":27921},{"i":108.75,"p":27921},{"i":110.4,"p":27950},{"i":113.75,"p":27982},{"i":116.25,"p":28006},{"i":119.6,"p":28022},{"i":122.9,"p":28054},{"i":127.1,"p":28094},{"i":131.25,"p":28126},{"i":136.25,"p":28150},{"i":140.4,"p":28161},{"i":144.6,"p":28166},{"i":149.6,"p":28182},{"i":154.6,"p":28198},{"i":157.9,"p":28206},{"i":161.25,"p":28190},{"i":164.6,"p":28177},{"i":167.9,"p":28158},{"i":172.9,"p":28142},{"i":177.5,"p":28122},{"i":180.4,"p":28103},{"i":184.6,"p":28071},{"i":187.9,"p":28023},{"i":190.4,"p":27999},{"i":193.75,"p":27959},{"i":197.1,"p":27943},{"i":199.6,"p":27911},{"i":202.1,"p":27871},{"i":204.6,"p":27823},{"i":207.1,"p":27775},{"i":210.4,"p":27735},{"i":213.75,"p":27711},{"i":217.1,"p":27687},{"i":222.1,"p":27671},{"i":227.1,"p":27655},{"i":232.1,"p":27623},{"i":237.1,"p":27607},{"i":242.1,"p":27591},{"i":246.25,"p":27559},{"i":248.75,"p":27551},{"i":252.9,"p":27535},{"i":257.1,"p":27519},{"i":261.25,"p":27508},{"i":265.4,"p":27507},{"i":269.6,"p":27517},{"i":273.75,"p":27530},{"i":277.1,"p":27548},{"i":280.4,"p":27548},{"i":283.75,"p":27538},{"i":287.1,"p":27511},{"i":290.4,"p":27484},{"i":293.75,"p":27471},{"i":297.9,"p":27463},{"i":302.1,"p":27468},{"i":307.1,"p":27468},{"i":311.25,"p":27479},{"i":315.4,"p":27490},{"i":319.6,"p":27503},{"i":323.75,"p":27516},{"i":328,"p":27519}
],
"signals": [
{"i":5,"p":28574,"t":"a"},{"i":37,"p":27329,"t":"a"},{"i":75,"p":27633,"t":"a"},{"i":106,"p":28294,"t":"a"},{"i":118,"p":28275,"t":"a"},{"i":131,"p":28302,"t":"a"},{"i":137,"p":28310,"t":"a"},{"i":156,"p":28283,"t":"a"},{"i":159,"p":28283,"t":"a"},{"i":176,"p":28150,"t":"a"},{"i":199,"p":27850,"t":"a"},{"i":216,"p":27559,"t":"a"},{"i":230,"p":27594,"t":"a"},{"i":241,"p":27551,"t":"a"},{"i":259,"p":27490,"t":"a"},{"i":280,"p":27628,"t":"a"},{"i":323,"p":27586,"t":"a"},
{"i":32,"p":27198,"t":"b"},{"i":42,"p":27230,"t":"b"},{"i":90,"p":27462,"t":"b"},{"i":111,"p":28049,"t":"b"},{"i":121,"p":28086,"t":"b"},{"i":132,"p":28206,"t":"b"},{"i":149,"p":28195,"t":"b"},{"i":157,"p":28214,"t":"b"},{"i":174,"p":28027,"t":"b"},{"i":198,"p":27730,"t":"b"},{"i":213,"p":27455,"t":"b"},{"i":218,"p":27467,"t":"b"},{"i":240,"p":27491,"t":"b"},{"i":253,"p":27415,"t":"b"},{"i":264,"p":27423,"t":"b"},{"i":298,"p":27354,"t":"b"},
{"i":10,"p":28520,"t":"d"},{"i":77,"p":27617,"t":"d"},{"i":82,"p":27625,"t":"d"},{"i":161,"p":28262,"t":"d"},{"i":281,"p":27623,"t":"d"},
{"i":55,"p":27415,"t":"u"},{"i":78,"p":27492,"t":"u"},{"i":90,"p":27412,"t":"u"},{"i":266,"p":27443,"t":"u"},{"i":309,"p":27410,"t":"u"}
],
"seps": [{"i":23},{"i":119},{"i":202},{"i":298},{"i":391}]
},
"layer": [
{
"data": {"name": "seps"},
"mark": {"type": "rule", "color": "#ffffff", "strokeWidth": 1, "strokeDash": [3, 2]},
"encoding": {
"x": {"field": "i", "type": "quantitative",
"scale": {"domain": [-0.375, 412.125], "nice": false, "zero": false},
"axis": {"values": [0,16,32,48,64,80,96,112,128,144,160,176,192,208,224,240,256,272,288,304,320],
"labelExpr": "['22 Mar 2023','22 Mar 22:15','23 Mar 02:15','23 Mar 06:15','23 Mar 10:15','23 Mar 14:15','23 Mar 18:15','23 Mar 22:15','24 Mar 02:15','24 Mar 06:15','24 Mar 10:15','24 Mar 16:30','24 Mar 20:30','25 Mar 01:30','25 Mar 05:30','25 Mar 09:30','25 Mar 13:30','25 Mar 17:30','25 Mar 21:30','26 Mar 01:30','26 Mar 06:15'][round(datum.value/16)]",
"title": null, "grid": false, "labelAlign": "left", "labelBaseline": "top", "labelColor": "#ffffff", "tickCount": 50,
"labelFont": "Liberation Sans", "labelFontSize": 9, "labelPadding": 4, "labelFlush": false, "labelOverlap": false,
"tickColor": "#ffffff", "tickSize": 3, "domainColor": "#ffffff"}}
}
},
{
"data": {"name": "candles"},
"mark": {"type": "rule", "color": "#00ff00", "strokeWidth": 1},
"encoding": {
"x": {"field": "i", "type": "quantitative"},
"y": {"field": "l", "type": "quantitative",
"scale": {"domain": [26549.7, 28987.1], "nice": false, "zero": false},
"axis": {"orient": "right", "values": [26559.35,26716.10,26872.85,27034.35,27191.10,27352.60,27670.85,27827.60,27984.35,28145.85,28302.60,28464.10,28620.85,28782.35,28939.10],
"tickCount": 30, "format": ".2f", "title": null, "grid": false, "tickSize": 3, "tickColor": "#ffffff", "domainColor": "#ffffff",
"labelColor": "#ffffff", "labelFont": "Liberation Sans", "labelFontSize": 9, "labelPadding": 3,
"labelAlign": "left", "labelBaseline": "middle", "labelOverlap": false, "labelFlush": false}},
"y2": {"field": "h"}
}
},
{
"mark": {"type": "rule", "color": "#778899", "strokeWidth": 1},
"encoding": {"y": {"datum": 27507.01, "type": "quantitative"}}
},
{
"data": {"name": "candles"},
"mark": {"type": "bar", "size": 2, "stroke": "#00ff00", "strokeWidth": 1},
"encoding": {
"x": {"field": "i", "type": "quantitative"},
"y": {"field": "o", "type": "quantitative"},
"y2": {"field": "c"},
"fill": {"condition": {"test": "datum.c < datum.o", "value": "#ffffff"}, "value": "#000000"}
}
},
{
"data": {"name": "slow"},
"mark": {"type": "line", "color": "#ffff00", "strokeWidth": 2},
"encoding": {"x": {"field": "i", "type": "quantitative"}, "y": {"field": "p", "type": "quantitative"}}
},
{
"data": {"name": "mid"},
"mark": {"type": "line", "color": "#3cbe3c", "strokeWidth": 2},
"encoding": {"x": {"field": "i", "type": "quantitative"}, "y": {"field": "p", "type": "quantitative"}}
},
{
"data": {"name": "fast"},
"mark": {"type": "line", "color": "#dc6e28", "strokeWidth": 2},
"encoding": {"x": {"field": "i", "type": "quantitative"}, "y": {"field": "p", "type": "quantitative"}}
},
{
"data": {"name": "signals"},
"mark": {"type": "point", "filled": true, "opacity": 1, "size": 400, "strokeWidth": 0},
"encoding": {
"x": {"field": "i", "type": "quantitative"},
"y": {"field": "p", "type": "quantitative"},
"shape": {"field": "t", "type": "nominal", "legend": null,
"scale": {"domain": ["a", "b", "d", "u"], "range": ["M0,-0.85L0.65,0L0,0.85L-0.65,0Z", "M0,-0.85L0.65,0L0,0.85L-0.65,0Z", "M-0.2,-1L0.2,-1L0.2,0.3L0.62,-0.12L0.85,0.12L0,1L-0.85,0.12L-0.62,-0.12L-0.2,0.3Z", "M-0.2,1L0.2,1L0.2,-0.3L0.62,0.12L0.85,-0.12L0,-1L-0.85,-0.12L-0.62,0.12L-0.2,-0.3Z"]}},
"color": {"field": "t", "type": "nominal", "legend": null,
"scale": {"domain": ["a", "b", "d", "u"], "range": ["#a82828", "#1030f0", "#ff0000", "#1e90ff"]}}
}
},
{
"data": {"values": [{"label": "BTCUSD,M15\u00a0 27533.32 27540.02 27501.41 27507.01"}]},
"mark": {"type": "text", "color": "#ffffff", "font": "Liberation Sans", "fontSize": 9, "align": "left", "baseline": "middle"},
"encoding": {"x": {"datum": 3.875, "type": "quantitative"}, "y": {"datum": 28946, "type": "quantitative"}, "text": {"field": "label"}}
},
{
"data": {"values": [{"k": "menu"}]},
"mark": {"type": "point", "shape": "triangle-down", "filled": true, "color": "#ffffff", "size": 36, "opacity": 1},
"encoding": {"x": {"datum": 1.6, "type": "quantitative"}, "y": {"datum": 28946, "type": "quantitative"}}
},
{
"data": {"values": [{"k": "shift"}]},
"mark": {"type": "point", "shape": "triangle-down", "filled": true, "color": "#8c8c8c", "size": 50, "opacity": 1},
"encoding": {"x": {"datum": 329.5, "type": "quantitative"}, "y": {"datum": 28976, "type": "quantitative"}}
},
{
"data": {"values": [{"k": "box"}]},
"mark": {"type": "rect", "color": "#ffffff", "opacity": 1},
"encoding": {"x": {"datum": 412.6, "type": "quantitative"}, "x2": {"datum": 424}, "y": {"datum": 27483, "type": "quantitative"}, "y2": {"datum": 27531}}
},
{
"data": {"values": [{"label": "27507.01"}]},
"mark": {"type": "text", "color": "#000000", "font": "Liberation Sans", "fontSize": 9, "align": "left", "baseline": "middle"},
"encoding": {"x": {"datum": 413.6, "type": "quantitative"}, "y": {"datum": 27507.01, "type": "quantitative"}, "text": {"field": "label"}}
}
]
}
